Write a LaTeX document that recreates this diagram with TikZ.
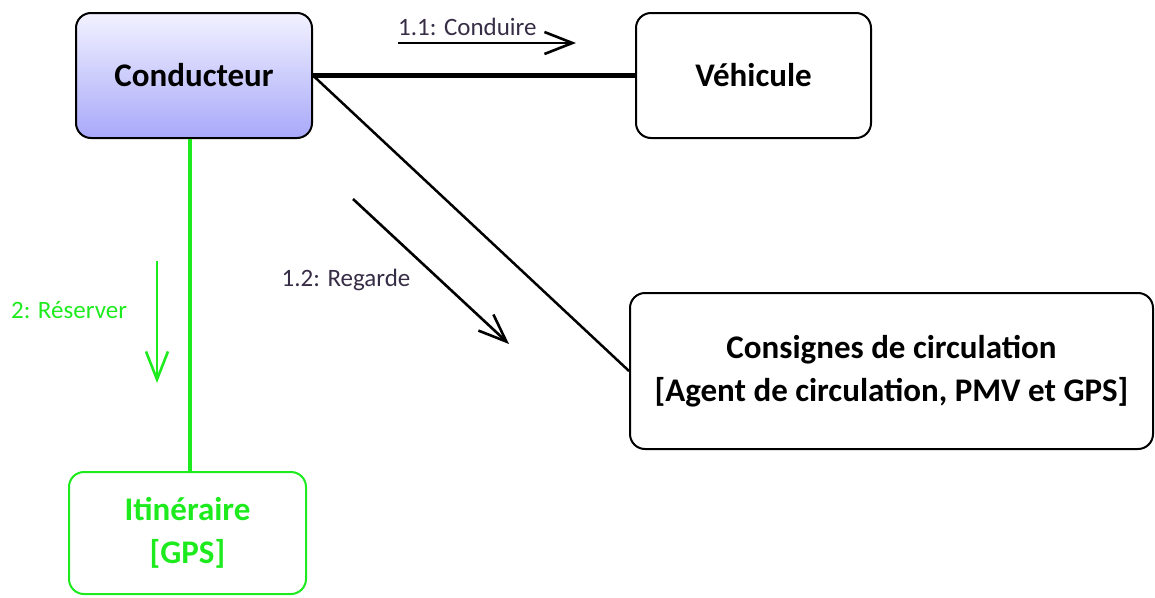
\documentclass[tikz,border=0pt]{standalone}
\usepackage{fontspec}
\setmainfont{Carlito}
\usepackage{tikz}
\usetikzlibrary{arrows.meta,positioning}
\definecolor{vert}{RGB}{30,235,30}
\definecolor{lbl}{RGB}{55,45,70}

\begin{document}
\begin{tikzpicture}[x=1pt,y=-1pt,
  objet/.style={draw,line width=2pt,rounded corners=15pt,align=center,
    font=\fontsize{33}{43}\selectfont\bfseries},
  msg/.style={line width=2.6pt,-{Straight Barb[length=28pt,width=22pt,line width=2.6pt]}},
  etiq/.style={font=\fontsize{25}{28}\selectfont,text=lbl}]
\useasboundingbox (0,0) rectangle (1155,597);
% objets
\node[objet,minimum width=236pt,minimum height=125pt,top color={rgb,255:red,242;green,242;blue,255},bottom color={rgb,255:red,168;green,168;blue,250}] (cond) at (194,75.5) {Conducteur};
\node[objet,minimum width=235pt,minimum height=125pt] (veh) at (753.5,75.5) {Véhicule};
\node[objet,minimum width=523pt,minimum height=156pt] (cons) at (891.5,371) {Consignes de circulation\\{[Agent de circulation, PMV et GPS]}};
\node[objet,draw=vert,text=vert,minimum width=237pt,minimum height=122pt] (itin) at (187.5,533) {Itinéraire\\{[GPS]}};
% liens
\draw[line width=5pt] (cond.east) -- (veh.west);
\draw[line width=2.5pt] (cond.east) -- (cons.west);
\draw[vert,line width=4pt] (cond.south -| 190,0) -- (itin.north -| 190,0);
% messages
\coordinate (m1a) at (398,43);
\coordinate (m1b) at (576,43);
\draw[msg] (m1a) -- (m1b);
\node[etiq,anchor=south west,inner sep=0pt] (m1) at (398,36) {1.1: Conduire};
\coordinate (m2a) at (353,199);
\coordinate (m2b) at (509,344);
\draw[msg] (m2a) -- (m2b);
\node[etiq] (m2) at (346,280) {1.2: Regarde};
\coordinate (m3a) at (157,261);
\coordinate (m3b) at (157,383);
\draw[msg,vert] (m3a) -- (m3b);
\node[etiq,text=vert] (m3) at (69,310) {2: Réserver};
\end{tikzpicture}
\end{document}
